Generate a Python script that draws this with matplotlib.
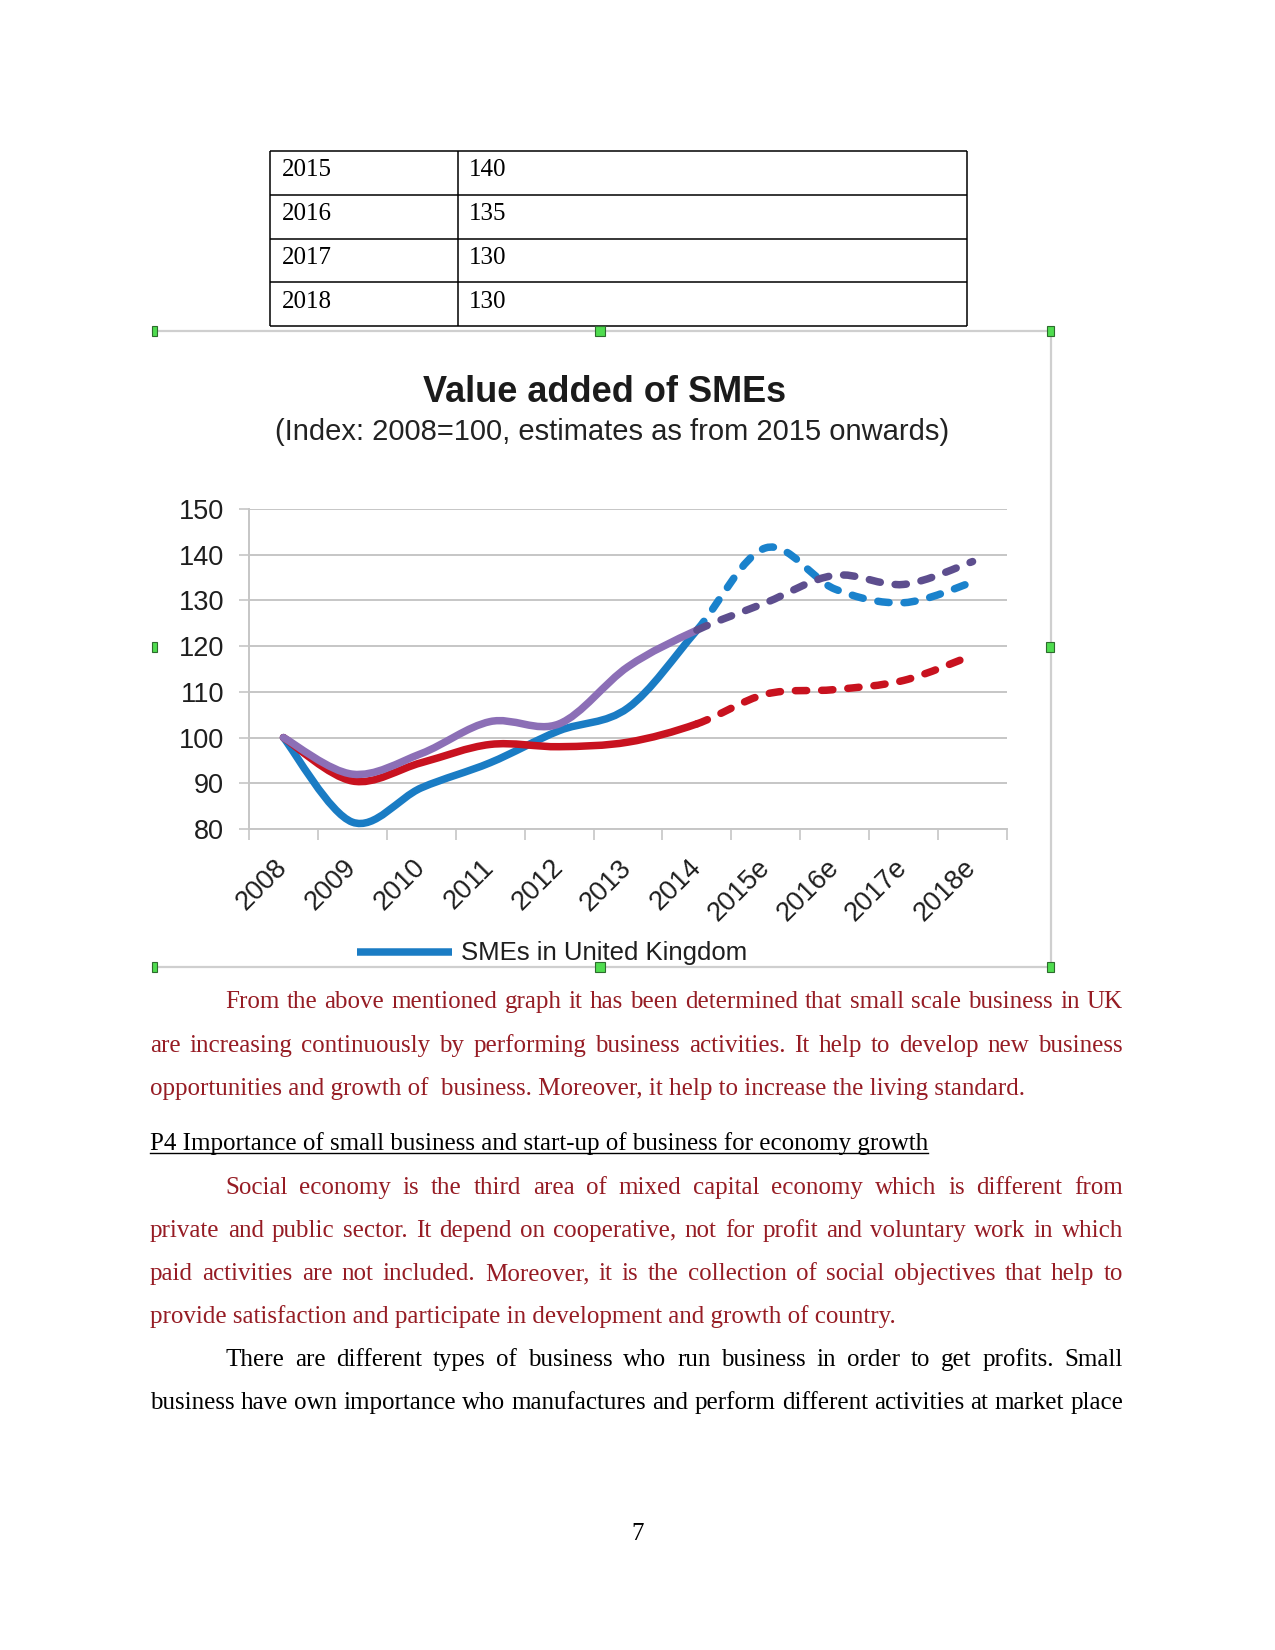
import matplotlib
matplotlib.use('Agg')
import matplotlib.pyplot as plt
from matplotlib.path import Path
from matplotlib.patches import PathPatch, Rectangle
from matplotlib.font_manager import FontProperties
import numpy as np

# ---------------- data ----------------
years = ['2008', '2009', '2010', '2011', '2012', '2013', '2014',
         '2015e', '2016e', '2017e', '2018e']
smes_uk = [100, 81.5, 89, 94.5, 101.5, 106.5, 123.5, 141.5, 132.5, 129.5, 134]
series_red = [100, 90.5, 94.5, 98.5, 98, 99, 103, 109.5, 110.5, 112.5, 118]
series_purple = [100, 92, 96.5, 103.5, 103, 115.5, 123.5, 129.5, 135.5, 133.5, 138.5]
y_ticks = [80, 90, 100, 110, 120, 130, 140, 150]
legend_label = 'SMEs in United Kingdom'
last_actual = 6  # index of 2014, estimates afterwards

table_years = ['2015', '2016', '2017', '2018']
table_values = ['140', '135', '130', '130']

W, H = 1275, 1650
fig = plt.figure(figsize=(W / 100, H / 100), dpi=100)
fig.patch.set_facecolor('white')

# document overlay axes in pixel coordinates
doc = fig.add_axes([0, 0, 1, 1])
doc.set_xlim(0, W)
doc.set_ylim(H, 0)
doc.axis('off')
doc.patch.set_alpha(0)

SERIF = 'Liberation Serif'
SANS = 'Liberation Sans'
RED_TXT = '#961c24'
BODY_FS = 18
BASE = 9  # offset from visual line centre to baseline (whole pixels)

renderer = fig.canvas.get_renderer()

# ---------------- table ----------------
tx = [270, 458, 967]
ty = [150.5, 194.5, 238.5, 282, 326]
for y in ty:
    doc.plot([tx[0], tx[-1]], [y, y], color='black', lw=1.1, solid_capstyle='butt')
for x in tx:
    doc.plot([x, x], [ty[0], ty[-1]], color='black', lw=1.1, solid_capstyle='butt')
for i, (yr, v) in enumerate(zip(table_years, table_values)):
    yb = int(round(ty[i] + 17 + BASE))
    doc.text(282, yb, yr, family=SERIF, fontsize=18, va='baseline', ha='left', color='black')
    doc.text(469, yb, v, family=SERIF, fontsize=18, va='baseline', ha='left', color='black')

# ---------------- chart frame ----------------
fr_l, fr_r, fr_t, fr_b = 153, 1051, 331, 967
frame_col = '#cfcfcf'
doc.plot([fr_l, fr_r], [fr_t, fr_t], color=frame_col, lw=1.6)
doc.plot([fr_l, fr_r], [fr_b, fr_b], color=frame_col, lw=1.6)
doc.plot([fr_r, fr_r], [fr_t, fr_b], color=frame_col, lw=1.6)
handles = [(fr_l, fr_t, 5), (601, fr_t, 10), (fr_r, fr_t, 7), (fr_l, 647, 5),
           (fr_r, 647, 8), (fr_l, fr_b, 5), (601, fr_b, 10), (fr_r, fr_b, 7)]
for hx, hy, hw_ in handles:
    x0 = hx if hx == fr_l else hx - hw_ / 2
    doc.add_patch(Rectangle((x0 - 1, hy - 5), hw_, 10, facecolor='#4fdc4f',
                            edgecolor='#2d6b2d', lw=0.8, zorder=5))

doc.text(605, 392, 'Value added of SMEs', family=SANS, fontsize=26, fontweight='bold',
         ha='center', va='center', color='#1b1b1b')
doc.text(612, 432, '(Index: 2008=100, estimates as from 2015 onwards)', family=SANS,
         fontsize=21, ha='center', va='center', color='#222222')

# ---------------- chart axes ----------------
ax_l, ax_r, ax_t, ax_b = 249, 1007, 509, 829
ax = fig.add_axes([ax_l / W, 1 - ax_b / H, (ax_r - ax_l) / W, (ax_b - ax_t) / H])
ax.patch.set_alpha(0)
ax.set_xlim(-0.5, len(years) - 0.5)
ax.set_ylim(y_ticks[0], y_ticks[-1])
grid_col = '#c6c6c6'
ax.set_yticks(y_ticks)
ax.set_yticklabels([str(t) for t in y_ticks], family=SANS, fontsize=19.5, color='#1e1e1e')
ax.yaxis.grid(True, color=grid_col, lw=1.4)
ax.set_axisbelow(True)
ax.tick_params(axis='y', length=7, width=1.2, color=grid_col, pad=11)
ax.set_xticks(range(len(years)))
ax.set_xticklabels(years, family=SANS, fontsize=19.5, color='#1e1e1e', rotation=45,
                   ha='right', va='center', rotation_mode='anchor')
ax.tick_params(axis='x', which='major', length=0, pad=25)
ax.set_xticks(np.arange(-0.5, len(years), 1), minor=True)
ax.tick_params(axis='x', which='minor', length=8, width=1.2, color=grid_col)
for s in ['top', 'right']:
    ax.spines[s].set_visible(False)
for s in ['left', 'bottom']:
    ax.spines[s].set_color(grid_col)
    ax.spines[s].set_linewidth(1.4)


def smooth_path(vals, i0, i1):
    pts = np.column_stack([np.arange(len(vals)), np.asarray(vals, float)])
    n = len(pts)
    verts = [pts[i0]]
    codes = [Path.MOVETO]
    for i in range(i0, i1):
        p0 = pts[max(i - 1, 0)]
        p1 = pts[i]
        p2 = pts[i + 1]
        p3 = pts[min(i + 2, n - 1)]
        c1 = p1 + (p2 - p0) / 6.0
        c2 = p2 - (p3 - p1) / 6.0
        verts += [c1, c2, p2]
        codes += [Path.CURVE4] * 3
    return Path(verts, codes)


LW = 5.4
series = [
    (smes_uk, '#1a7cc4', '#1a82cc'),
    (series_red, '#c8121f', '#c8121f'),
    (series_purple, '#8c6fb6', '#5d4e8e'),
]
for k, (vals, c_solid, c_dash) in enumerate(series):
    p1 = PathPatch(smooth_path(vals, 0, last_actual), fill=False, edgecolor=c_solid,
                   lw=LW, capstyle='round', joinstyle='round', clip_on=False, zorder=3 + k)
    ax.add_patch(p1)
    p2 = PathPatch(smooth_path(vals, last_actual, len(vals) - 1), fill=False,
                   edgecolor=c_dash, lw=LW, linestyle=(0, (1.5, 2.0)), capstyle='round',
                   clip_on=False, zorder=3 + k)
    ax.add_patch(p2)

# legend
doc.plot([357, 452], [952, 952], color='#1a7cc4', lw=LW, solid_capstyle='butt')
doc.text(461, 953, legend_label, family=SANS, fontsize=18.5, ha='left', va='center',
         color='#1e1e1e')

# ---------------- body text ----------------
kw = dict(family=SERIF, fontsize=BODY_FS)
fp_body = FontProperties(family=SERIF, size=BODY_FS)


def text_w(s, **kw_):
    t = doc.text(0, 0, s, **kw_)
    w = t.get_window_extent(renderer).width
    t.remove()
    return w


def baseline_corrections(words):
    """Measure, per word, how far the rendered ink sits from where the
    font metrics say it should, so every word shares one visual baseline."""
    uniq = sorted(set(words))
    rowh = 60
    n = len(uniq)
    sf = plt.figure(figsize=(6, n * rowh / 100), dpi=100)
    sax = sf.add_axes([0, 0, 1, 1])
    sax.set_xlim(0, 600)
    sax.set_ylim(n * rowh, 0)
    sax.axis('off')
    for i, w_ in enumerate(uniq):
        sax.text(10, i * rowh + 40, w_, va='baseline', ha='left', color='black', **kw)
    sf.canvas.draw()
    srend = sf.canvas.get_renderer()
    img = np.asarray(sf.canvas.buffer_rgba())[:, :, 0]
    raw = {}
    for i, w_ in enumerate(uniq):
        band = img[i * rowh:(i + 1) * rowh, :]
        rows = np.where((band < 170).any(axis=1))[0]
        if len(rows) == 0:
            raw[w_] = 0.0
            continue
        _, _, d = srend.get_text_width_height_descent(w_, fp_body, ismath=False)
        raw[w_] = (rows.max() + 1) - (40 + d)
    plt.close(sf)
    med = float(np.median(list(raw.values())))
    return {w_: int(round(v - med)) for w_, v in raw.items()}


LEFT, RIGHT, INDENT = 150, 1123, 225
body = [
    ('From the  above mentioned graph it has been determined that small scale business in UK', 999, True, True, RED_TXT),
    ('are increasing continuously by performing business activities. It help to develop new business', 1043, False, True, RED_TXT),
    ('opportunities and growth of  business. Moreover, it help to increase the living standard.', 1086, False, False, RED_TXT),
    ('Social economy is the third area of mixed capital economy which is different from', 1185, True, True, RED_TXT),
    ('private and public sector. It depend on cooperative, not for profit and voluntary work in which', 1228, False, True, RED_TXT),
    ('paid activities are not included. Moreover, it is the collection of social objectives that help to', 1271, False, True, RED_TXT),
    ('provide satisfaction and participate in development and growth of country.', 1314, False, False, RED_TXT),
    ('There are different types of business who run business in order to get profits. Small', 1357, True, True, 'black'),
    ('business have own importance who manufactures and perform different activities at market place', 1400, False, True, 'black'),
]

all_words = [w_ for line, _, _, j, _ in body if j for w_ in line.split()]
corr = baseline_corrections(all_words)

for line, y, indent, justify, col in body:
    x0 = INDENT if indent else LEFT
    yb = int(round(y + BASE))
    if not justify:
        doc.text(x0, yb, line, ha='left', va='baseline', color=col, **kw)
        continue
    words = line.split()
    widths = [text_w(w_, **kw) for w_ in words]
    gap = (RIGHT - x0 - sum(widths)) / (len(words) - 1)
    x = x0
    for w_, wd in zip(words, widths):
        doc.text(x, yb - corr.get(w_, 0), w_, ha='left', va='baseline', color=col, **kw)
        x += wd + gap

heading = 'P4 Importance of small business and start-up of business for economy growth'
doc.text(LEFT, 1141 + BASE, heading, ha='left', va='baseline', color='black', **kw)
hw = text_w(heading, **kw)
doc.plot([LEFT, LEFT + hw], [1153, 1153], color='black', lw=1.0)

doc.text(637.5, 1531 + BASE, '7', ha='center', va='baseline', color='black', **kw)

fig.savefig('out.png', dpi=100, facecolor='white')
